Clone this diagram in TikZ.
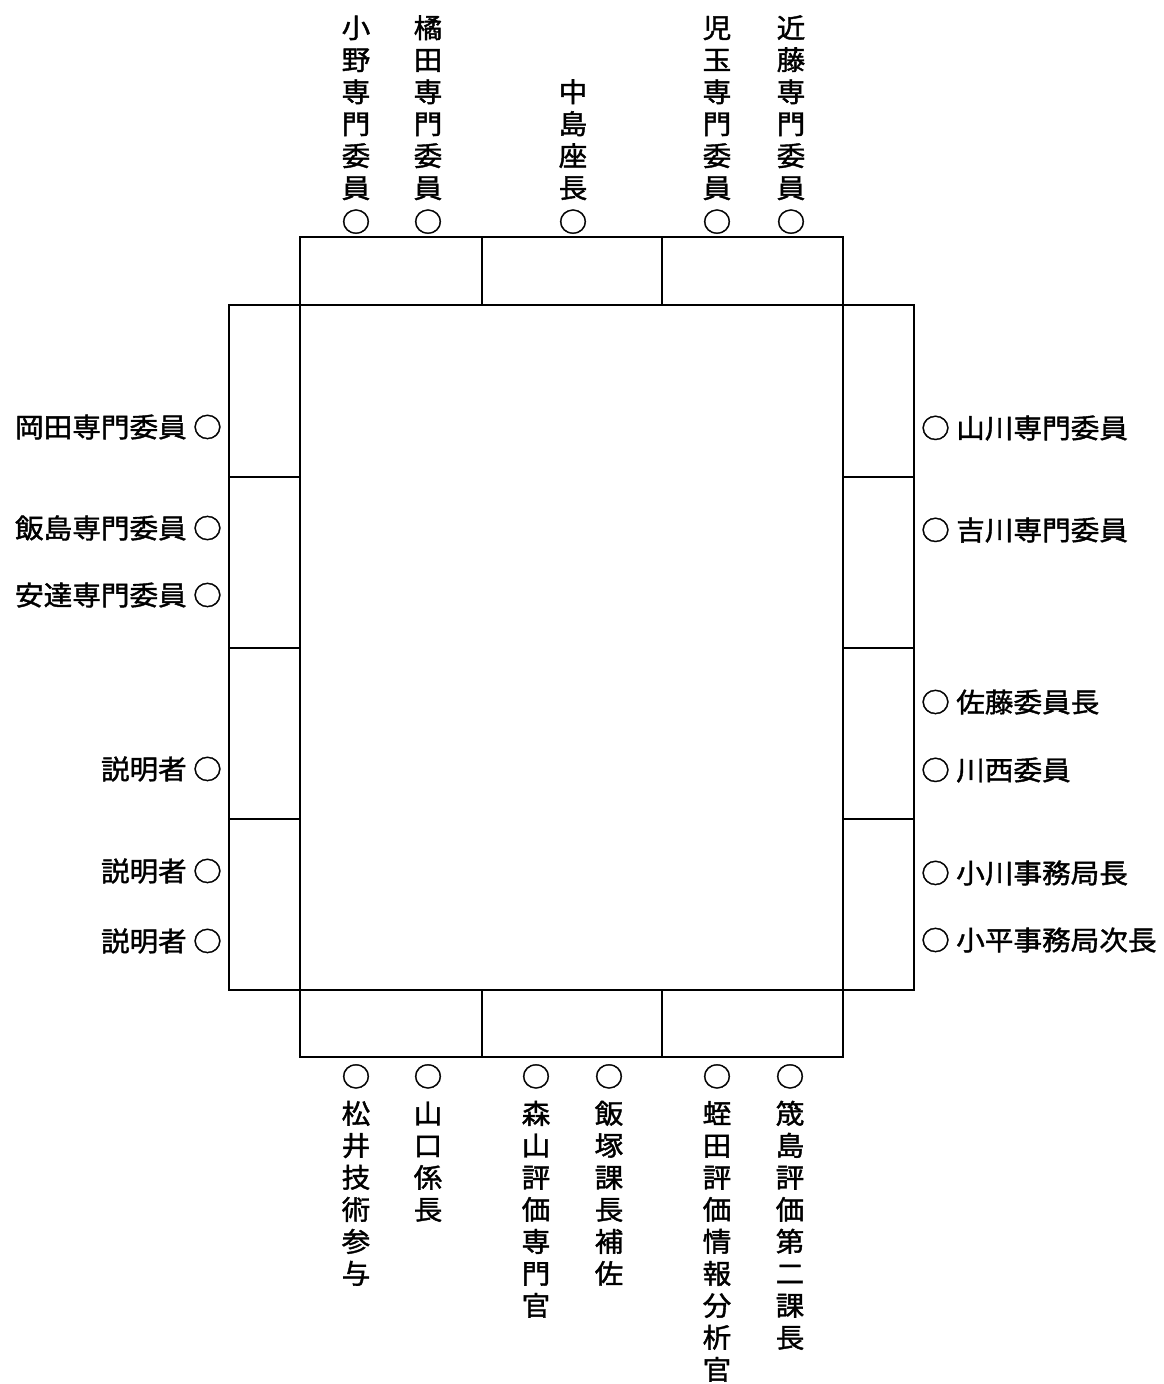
\documentclass[tikz,border=0pt]{standalone}
\usepackage{fontspec}
\newfontfamily\jp[FakeStretch=1.06,FakeBold=1.5]{Noto Sans CJK JP}
\tikzset{
	seat/.style={font=\jp\fontsize{27}{32}\selectfont,inner sep=0pt},
	vseat/.style={seat,align=center},
	desk/.style={line width=2.9pt}
}
\begin{document}
\begin{tikzpicture}[x=1pt,y=-1pt]
	\useasboundingbox (0,0) rectangle (1164,1384);
	% desks
	\draw[desk] (300,237) rectangle (843,305);
	\draw[desk] (482,237) -- (482,305) (662,237) -- (662,305);
	\draw[desk] (300,305) rectangle (843,990);
	\draw[desk] (229,305) rectangle (300,990);
	\draw[desk] (229,477) -- (300,477) (229,648) -- (300,648) (229,819) -- (300,819);
	\draw[desk] (843,305) rectangle (914,990);
	\draw[desk] (843,477) -- (914,477) (843,648) -- (914,648) (843,819) -- (914,819);
	\draw[desk] (300,990) rectangle (843,1057);
	\draw[desk] (482,990) -- (482,1057) (662,990) -- (662,1057);
	% top side
	\node[vseat,anchor=south] (ono) at (356,234) {小\\野\\専\\門\\委\\員\\[2pt]○};
	\node[vseat,anchor=south] (tachibana) at (428,234) {橘\\田\\専\\門\\委\\員\\[2pt]○};
	\node[vseat,anchor=south] (nakajima) at (573,234) {中\\島\\座\\長\\[2pt]○};
	\node[vseat,anchor=south] (kodama) at (717,234) {児\\玉\\専\\門\\委\\員\\[2pt]○};
	\node[vseat,anchor=south] (kondo) at (791,234) {近\\藤\\専\\門\\委\\員\\[2pt]○};
	% left side
	\node[seat,anchor=east] (okada) at (222,427) {岡田専門委員 ○};
	\node[seat,anchor=east] (iijima) at (222,528) {飯島専門委員 ○};
	\node[seat,anchor=east] (adachi) at (222,595) {安達専門委員 ○};
	\node[seat,anchor=east] (setsu1) at (222,769) {説明者 ○};
	\node[seat,anchor=east] (setsu2) at (222,871) {説明者 ○};
	\node[seat,anchor=east] (setsu3) at (222,941) {説明者 ○};
	% right side
	\node[seat,anchor=west] (yamakawa) at (921,428) {○ 山川専門委員};
	\node[seat,anchor=west] (yoshikawa) at (921,530) {○ 吉川専門委員};
	\node[seat,anchor=west] (sato) at (921,702) {○ 佐藤委員長};
	\node[seat,anchor=west] (kawanishi) at (921,770) {○ 川西委員};
	\node[seat,anchor=west] (ogawa) at (921,873) {○ 小川事務局長};
	\node[seat,anchor=west] (kodaira) at (921,940) {○ 小平事務局次長};
	% bottom side
	\node[vseat,anchor=north] (matsui) at (356,1064) {○\\[5pt]松\\井\\技\\術\\参\\与};
	\node[vseat,anchor=north] (yamaguchi) at (428,1064) {○\\[5pt]山\\口\\係\\長};
	\node[vseat,anchor=north] (moriyama) at (536,1064) {○\\[5pt]森\\山\\評\\価\\専\\門\\官};
	\node[vseat,anchor=north] (iizuka) at (609,1064) {○\\[5pt]飯\\塚\\課\\長\\補\\佐};
	\node[vseat,anchor=north] (hiruta) at (717,1064) {○\\[5pt]蛭\\田\\評\\価\\情\\報\\分\\析\\官};
	\node[vseat,anchor=north] (osajima) at (790,1064) {○\\[5pt]筬\\島\\評\\価\\第\\二\\課\\長};
\end{tikzpicture}
\end{document}
